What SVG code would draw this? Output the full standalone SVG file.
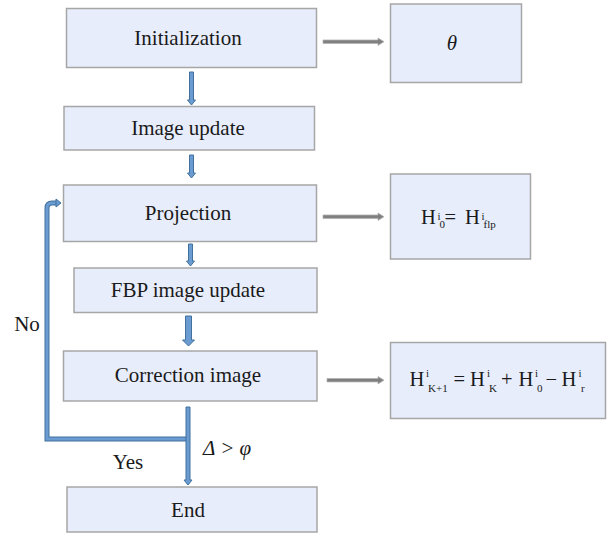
<svg xmlns="http://www.w3.org/2000/svg" width="611" height="534" viewBox="0 0 611 534">
<style>
.box{fill:#e7edfa;stroke:#a6a6a6;stroke-width:1.5}
text{font-family:'Liberation Serif','Times New Roman','DejaVu Serif',serif;fill:#1a1a1a}
.t{font-size:21px;text-anchor:middle}
.m{font-size:20.5px}
.s{font-size:11px}
.ba{fill:#6a9bd1;stroke:#41719c;stroke-width:1}
.ga{fill:#7f7f7f;stroke:#b0b0b0;stroke-width:0.8}
</style>
<rect width="611" height="534" fill="#ffffff"/>
<g id="connectors">
<polygon class="ba" points="189.5,72 193.5,72 193.5,100 195.5,100 191.5,105 187.5,100 189.5,100"/>
<polygon class="ba" points="189.5,155 193.5,155 193.5,173 195.5,173 191.5,178 187.5,173 189.5,173"/>
<polygon class="ba" points="188.5,244 192.5,244 192.5,261 194.5,261 190.5,266 186.5,261 188.5,261"/>
<polygon class="ba" points="185.5,316 191.5,316 191.5,340 194.5,340 188.5,346 182.5,340 185.5,340"/>
<path d="M187.5,439 H47 V208 Q47,203 52,203 H57" fill="none" stroke="#41719c" stroke-width="5"/>
<path d="M187.5,439 H47 V208 Q47,203 52,203 H57" fill="none" stroke="#6a9bd1" stroke-width="3"/>
<polygon class="ba" points="56,199 61,203 56,207"/>
<polygon class="ba" points="186,407 190,407 190,480 192,480 188,485 184,480 186,480"/>
<polygon class="ga" points="323,40 378,40 378,38 384,41.7 378,45.4 378,43.4 323,43.4"/>
<polygon class="ga" points="323,215 378,215 378,213 384,216.7 378,220.4 378,218.4 323,218.4"/>
<polygon class="ga" points="327,378.5 378,378.5 378,376.5 384,380.2 378,383.9 378,381.9 327,381.9"/>
</g>
<g id="n-init"><rect class="box" x="66.5" y="8.5" width="250" height="59"/><text class="t" x="188" y="45">Initialization</text></g>
<g id="n-theta"><rect class="box" x="390.5" y="4" width="131" height="78.5"/><text class="t" x="452" y="50" font-style="italic">θ</text></g>
<g id="n-imgupd"><rect class="box" x="64" y="106.5" width="250.5" height="43.5"/><text class="t" x="188" y="134.5">Image update</text></g>
<g id="n-proj"><rect class="box" x="63.5" y="185" width="253" height="56.5"/><text class="t" x="188" y="219.5">Projection</text></g>
<g id="n-h0"><rect class="box" x="390.5" y="174" width="140" height="85"/>
<text class="m" x="421" y="223.5">H<tspan class="s" x="437.5" y="219.5">i</tspan><tspan class="s" x="439.5" y="228">0</tspan><tspan x="444.5" y="223.5">=</tspan><tspan x="465" y="223.5">H</tspan><tspan class="s" x="481.5" y="219.5">i</tspan><tspan class="s" x="483.5" y="228">flp</tspan></text></g>
<g id="n-fbp"><rect class="box" x="74" y="268" width="243" height="44.5"/><text class="t" x="188" y="297">FBP image update</text></g>
<g id="n-corr"><rect class="box" x="63.5" y="351" width="253.5" height="50"/><text class="t" x="188" y="381.5">Correction image</text></g>
<g id="n-hk"><rect class="box" x="390.5" y="342.5" width="215" height="76"/>
<text class="m" x="409.5" y="386">H<tspan class="s" x="426" y="377">i</tspan><tspan class="s" x="428" y="391.5" font-size="10">K+1</tspan><tspan x="453.5" y="386">=</tspan><tspan x="470" y="386">H</tspan><tspan class="s" x="487" y="377">i</tspan><tspan class="s" x="489" y="391.5" font-size="10">K</tspan><tspan x="501" y="386">+</tspan><tspan x="518.5" y="386">H</tspan><tspan class="s" x="535" y="377">i</tspan><tspan class="s" x="537" y="391.5">0</tspan><tspan x="545.5" y="386">−</tspan><tspan x="561.5" y="386">H</tspan><tspan class="s" x="578.5" y="377">i</tspan><tspan class="s" x="581" y="391.5">r</tspan></text></g>
<g id="n-end"><rect class="box" x="67" y="487" width="250" height="45"/><text class="t" x="188" y="516.5">End</text></g>
<g id="labels">
<text class="t" x="27" y="331">No</text>
<text class="t" x="128" y="469">Yes</text>
<text class="t" x="203" y="455" style="text-anchor:start" font-style="italic">Δ &gt; φ</text>
</g>
</svg>
